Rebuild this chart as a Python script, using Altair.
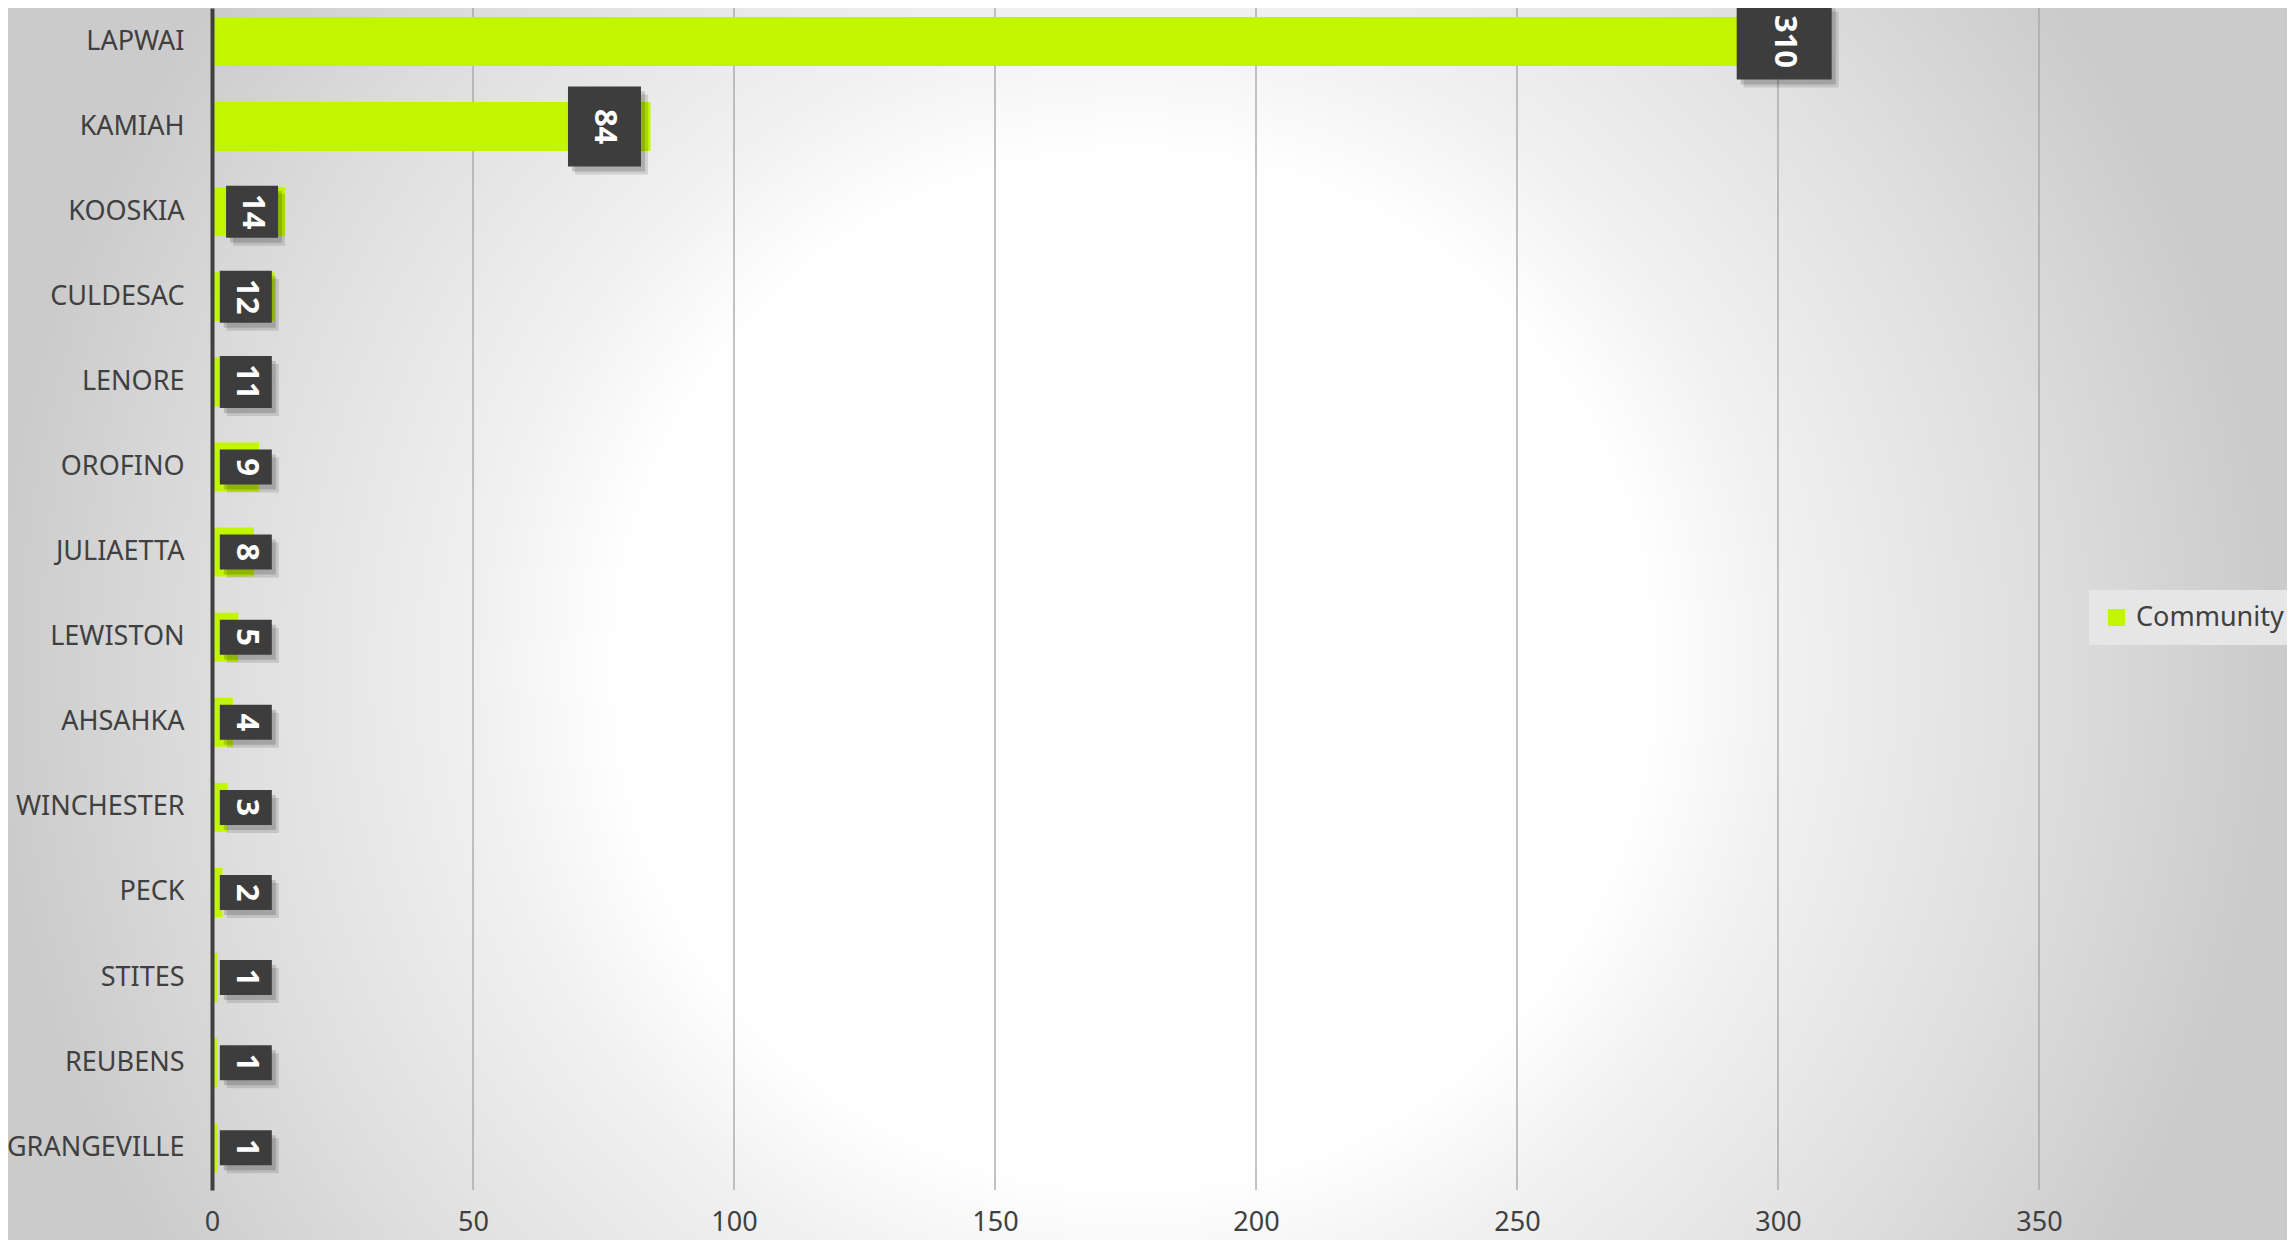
import altair as alt
import pandas as pd

communities = ["LAPWAI", "KAMIAH", "KOOSKIA", "CULDESAC", "LENORE", "OROFINO",
               "JULIAETTA", "LEWISTON", "AHSAHKA", "WINCHESTER", "PECK",
               "STITES", "REUBENS", "GRANGEVILLE"]
counts = [310, 84, 14, 12, 11, 9, 8, 5, 4, 3, 2, 1, 1, 1]
series_name = "Community"
x_ticks = [0, 50, 100, 150, 200, 250, 300, 350]

df = pd.DataFrame({"Community": communities, "Count": counts,
                   "Series": [series_name] * len(communities)})
ticks_df = pd.DataFrame({"tick": x_ticks[1:]})

W, H = 1827, 1182
PAD = {"left": 204, "top": 0, "right": 248, "bottom": 50}
LIME = "#c2f500"
DARK = "#404040"
FONT = "Noto Sans"

yenc = alt.Y("Community:N", sort=communities, title=None,
             scale=alt.Scale(paddingInner=0.424, paddingOuter=0.157, align=0.337),
             axis=alt.Axis(domainColor=DARK, domainWidth=4, ticks=False, grid=False,
                           labelFont=FONT, labelFontSize=27, labelColor=DARK,
                           labelPadding=28, labelLimit=400, zindex=1))
xscale = alt.Scale(domain=[0, 350], nice=False)

bg = alt.Chart(pd.DataFrame({"a": [0]})).mark_rect(
    fill=alt.RadialGradient(
        gradient="radial", x1=0.494, y1=0.52, x2=0.494, y2=0.52, r1=0, r2=0.5,
        stops=[alt.GradientStop(color="#ffffff", offset=0),
               alt.GradientStop(color="#ffffff", offset=0.45),
               alt.GradientStop(color="#f1f1f1", offset=0.57),
               alt.GradientStop(color="#dedede", offset=0.8),
               alt.GradientStop(color="#cbcbcb", offset=1)])
).encode(x=alt.value(-PAD["left"]), x2=alt.value(W + PAD["right"]),
         y=alt.value(0), y2=alt.value(H + PAD["bottom"]))

grid = alt.Chart(ticks_df).mark_rule(color="#a3a3a3", strokeWidth=1.3).encode(
    x=alt.X("tick:Q", scale=xscale))

bars = alt.Chart(df).mark_bar().encode(
    y=yenc,
    x=alt.X("Count:Q", scale=xscale, title=None,
            axis=alt.Axis(values=x_ticks, domain=False, ticks=False, grid=False,
                          labelFont=FONT, labelFontSize=27, labelColor=DARK,
                          labelPadding=19, labelFlush=False, labelOverlap=False,
                          zindex=1)),
    color=alt.Color("Series:N", scale=alt.Scale(domain=[series_name], range=[LIME]),
                    legend=alt.Legend(title=None, orient="none", legendX=1877, legendY=582,
                                      fillColor="#e6e6e6", padding=14,
                                      symbolType="square", symbolSize=289,
                                      symbolStrokeWidth=0, labelFont=FONT,
                                      labelFontSize=27, labelColor=DARK,
                                      labelOffset=6)),
)

shape_scale = alt.Scale(
    domain=["s", "m", "l", "xl"],
    range=["M-26,-17.5H26V17.5H-26Z", "M-26,-26H26V26H-26Z",
           "M-36.5,-40H36.5V40H-36.5Z", "M-47.5,-38H47.5V38H-47.5Z"])

lbl = alt.Chart(df).transform_calculate(
    lx="max(datum.Count, 12.8)",
    kind="datum.Count >= 100 ? 'xl' : datum.Count >= 50 ? 'l' : datum.Count >= 10 ? 'm' : 's'",
    big="datum.Count >= 50",
)


def label_layers(filt, xoff):
    base = lbl.transform_filter(filt)
    enc = dict(y=alt.Y("Community:N", sort=communities),
               x=alt.X("lx:Q", scale=xscale),
               shape=alt.Shape("kind:N", scale=shape_scale, legend=None))
    sh1 = base.mark_point(filled=True, size=4, color="#000000", opacity=0.12,
                          strokeWidth=0, xOffset=xoff + 7, yOffset=8).encode(**enc)
    sh2 = base.mark_point(filled=True, size=4, color="#000000", opacity=0.16,
                          strokeWidth=0, xOffset=xoff + 4, yOffset=5).encode(**enc)
    box = base.mark_point(filled=True, size=4, color="#3d3d3d", opacity=1,
                          strokeWidth=0, xOffset=xoff).encode(**enc)
    txt = base.mark_text(angle=90, font="Open Sans", fontWeight="bold", fontSize=31,
                         color="white", align="center", baseline="middle",
                         xOffset=xoff).encode(
        y=alt.Y("Community:N", sort=communities),
        x=alt.X("lx:Q", scale=xscale),
        text=alt.Text("Count:Q"))
    return [sh1, sh2, box, txt]


layers = [bg, grid, bars] + label_layers("datum.big", -46) + label_layers("!datum.big", -33)

chart = alt.layer(*layers).properties(
    width=W, height=H,
    autosize=alt.AutoSizeParams(type="none"),
    padding=PAD,
    background="#cdcdcd",
).configure_view(stroke=None)

chart.save("out.html", embed_options={"renderer": "svg", "actions": False})
